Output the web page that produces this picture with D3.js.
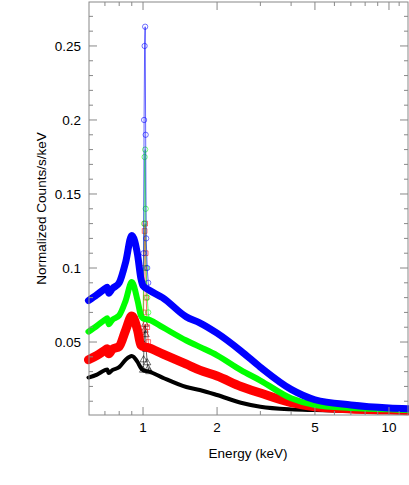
<!DOCTYPE html>
<html><head><meta charset="utf-8">
<script src="https://cdn.jsdelivr.net/npm/d3@7"></script>
<style>body{margin:0;background:#fff}text{font-family:"Liberation Sans",Arial,sans-serif;font-size:13.5px}</style>
</head><body><svg id="c" width="409" height="485"></svg>
<script>
// continuum energies (keV) and per-series values
var energies = [0.6,0.65,0.7,0.715,0.725,0.75,0.8,0.85,0.9,0.95,0.98,1.0,1.06,1.2,1.5,1.7,2,2.5,3,4,5,7,10,12]
var blue  = [0.078,0.082,0.086,0.087,0.083,0.086,0.090,0.104,0.122,0.109,0.093,0.088,0.085,0.080,0.067,0.063,0.056,0.044,0.033,0.018,0.011,0.0075,0.0055,0.005]
var green = [0.057,0.061,0.065,0.066,0.062,0.065,0.068,0.078,0.0905,0.078,0.068,0.066,0.065,0.060,0.051,0.0467,0.041,0.031,0.024,0.012,0.0075,0.0055,0.0045,0.004]
var red   = [0.038,0.041,0.0445,0.0455,0.042,0.045,0.047,0.058,0.0675,0.058,0.048,0.047,0.046,0.042,0.035,0.031,0.027,0.020,0.0155,0.009,0.0063,0.0048,0.004,0.0035]
var black = [0.026,0.028,0.031,0.0315,0.029,0.031,0.033,0.038,0.0405,0.0365,0.0325,0.031,0.030,0.026,0.0196,0.0176,0.0142,0.009,0.0063,0.0045,0.004,0.0034,0.003,0.0028]
// narrow line region near 1 keV
var spikeE = [1.0,1.005,1.01,1.015,1.02,1.025,1.03,1.04,1.05,1.06]
var blueSpike  = [0.088,0.11,0.20,0.25,0.263,0.19,0.12,0.10,0.09,0.085]
var greenSpike = [0.066,0.09,0.13,0.175,0.18,0.14,0.10,0.08,0.07,0.065]
var redSpike   = [0.047,0.07,0.10,0.125,0.13,0.11,0.08,0.06,0.05,0.046]
var blackSpike = [0.031,0.038,0.048,0.058,0.062,0.055,0.045,0.036,0.032,0.030]
var xTicks = [1,2,5,10]
var yTicks = [0.05,0.1,0.15,0.2,0.25]

var L=89,R=408,T=2,B=415
var x=d3.scaleLog().domain([0.603,11.95]).range([L,R])
var y=d3.scaleLinear().domain([0.0007,0.2797]).range([B,T])
var svg=d3.select("#c")

var series=[
  {c:"#000",v:black,s:blackSpike,w:4,sym:d3.symbolTriangle},
  {c:"#f00",v:red,s:redSpike,w:9,sym:d3.symbolSquare},
  {c:"#0f0",v:green,s:greenSpike,w:6,sym:d3.symbolCircle},
  {c:"#00f",v:blue,s:blueSpike,w:7,sym:d3.symbolCircle}
]
var line=d3.line().x(d=>x(d[0])).y(d=>y(d[1])).curve(d3.curveMonotoneX)
series.forEach(function(s){
  svg.append("path").attr("d",line(energies.map((e,i)=>[e,s.v[i]])))
    .attr("fill","none").attr("stroke",s.c).attr("stroke-width",s.w).attr("stroke-linejoin","round").attr("stroke-linecap","round")
  var pts=spikeE.map((e,i)=>[e,s.s[i]])
  svg.append("path").attr("d",d3.line().x(d=>x(d[0])).y(d=>y(d[1]))(pts))
    .attr("fill","none").attr("stroke",s.c).attr("stroke-width",1).attr("opacity",0.6)
  svg.selectAll(null).data(pts).enter().append("path")
    .attr("d",d3.symbol().type(s.sym).size(22))
    .attr("transform",d=>"translate("+x(d[0])+","+y(d[1])+")")
    .attr("fill","none").attr("stroke",s.c).attr("stroke-width",0.8).attr("opacity",0.7)
})

// frame and axes
svg.append("rect").attr("x",L).attr("y",T).attr("width",R-L).attr("height",B-T).attr("fill","none").attr("stroke","#888")
var minorX=[]
;[0.6,0.7,0.8,0.9,1,2,3,4,5,6,7,8,9,10,11].forEach(v=>{if(v>=0.603&&v<=11.95)minorX.push(v)})
minorX.forEach(function(v){
  var big=xTicks.indexOf(v)>=0, l=big?8:4
  svg.append("line").attr("x1",x(v)).attr("x2",x(v)).attr("y1",B).attr("y2",B-l).attr("stroke","#888")
  svg.append("line").attr("x1",x(v)).attr("x2",x(v)).attr("y1",T).attr("y2",T+l).attr("stroke","#888")
})
svg.selectAll(null).data(xTicks).enter().append("text").attr("x",d=>x(d)).attr("y",B+17).attr("text-anchor","middle").text(d=>d)
d3.range(0.01,0.28,0.01).forEach(function(v){
  var big=yTicks.some(t=>Math.abs(t-v)<1e-6), l=big?8:4
  svg.append("line").attr("x1",L).attr("x2",L+l).attr("y1",y(v)).attr("y2",y(v)).attr("stroke","#888")
  svg.append("line").attr("x1",R).attr("x2",R-l).attr("y1",y(v)).attr("y2",y(v)).attr("stroke","#888")
})
svg.selectAll(null).data(yTicks).enter().append("text").attr("x",L-8).attr("y",d=>y(d)+5).attr("text-anchor","end").text(d=>d)
svg.append("text").attr("x",248).attr("y",458).attr("text-anchor","middle").text("Energy (keV)")
svg.append("text").attr("transform","translate(46,"+(T+B)/2+") rotate(-90)").attr("text-anchor","middle").text("Normalized Counts/s/keV")
</script></body></html>
